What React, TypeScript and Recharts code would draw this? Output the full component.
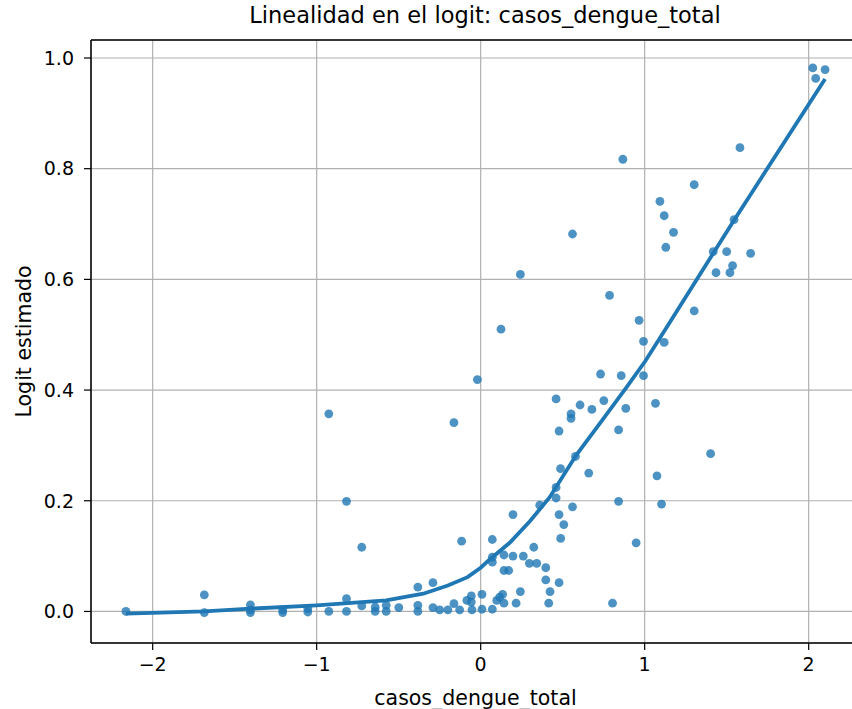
import React from "react";
import {
  CartesianGrid,
  ComposedChart,
  Line,
  ReferenceLine,
  Scatter,
  XAxis,
  YAxis,
} from "recharts";

// valores
const ptsX = [
  -2.163, -1.685, -1.685, -1.404, -1.404, -1.404, -1.207, -1.207, -1.054, -1.054,
  -0.926, -0.926, -0.818, -0.818, -0.818, -0.725, -0.725, -0.643, -0.643, -0.576,
  -0.576, -0.499, -0.383, -0.383, -0.383, -0.291, -0.291, -0.25, -0.2, -0.163,
  -0.163, -0.128, -0.116, -0.084, -0.057, -0.057, -0.053, -0.02, 0.008, 0.008,
  0.071, 0.071, 0.071, 0.071, 0.098, 0.116, 0.124, 0.134, 0.142, 0.142,
  0.142, 0.171, 0.197, 0.197, 0.216, 0.242, 0.242, 0.26, 0.297, 0.324,
  0.342, 0.36, 0.397, 0.397, 0.415, 0.423, 0.46, 0.46, 0.46, 0.478,
  0.478, 0.478, 0.488, 0.487, 0.507, 0.551, 0.551, 0.56, 0.56, 0.578,
  0.606, 0.659, 0.678, 0.731, 0.751, 0.786, 0.804, 0.841, 0.841, 0.857,
  0.867, 0.885, 0.948, 0.966, 0.993, 0.993, 1.066, 1.075, 1.093, 1.103,
  1.119, 1.119, 1.129, 1.176, 1.302, 1.302, 1.402, 1.418, 1.435, 1.5,
  1.52, 1.536, 1.545, 1.581, 1.646, 2.025, 2.043, 2.1,
];
const ptsY = [
  0.0, 0.03, -0.002, 0.012, 0.003, -0.002, 0.003, -0.002, 0.005, -0.001,
  0.357, 0.0, 0.199, 0.023, 0.0, 0.116, 0.01, 0.008, 0.0, 0.011,
  0.0, 0.007, 0.044, 0.011, 0.0, 0.052, 0.007, 0.003, 0.003, 0.341,
  0.014, 0.003, 0.127, 0.02, 0.028, 0.017, 0.003, 0.419, 0.031, 0.004,
  0.13, 0.098, 0.089, 0.004, 0.02, 0.026, 0.51, 0.031, 0.102, 0.074,
  0.015, 0.074, 0.175, 0.1, 0.015, 0.609, 0.036, 0.1, 0.087, 0.116,
  0.087, 0.192, 0.079, 0.057, 0.015, 0.036, 0.384, 0.224, 0.205, 0.326,
  0.175, 0.052, 0.132, 0.258, 0.157, 0.357, 0.349, 0.682, 0.189, 0.28,
  0.373, 0.25, 0.365, 0.429, 0.381, 0.571, 0.015, 0.328, 0.199, 0.426,
  0.817, 0.367, 0.124, 0.526, 0.488, 0.426, 0.376, 0.245, 0.741, 0.194,
  0.715, 0.486, 0.658, 0.685, 0.771, 0.543, 0.285, 0.65, 0.612, 0.65,
  0.612, 0.625, 0.708, 0.838, 0.647, 0.982, 0.963, 0.979,
];

// curva suavizada
const curveX = [-2.163, -1.685, -1.404, -1.0, -0.576, -0.35, -0.2, -0.08, 0.0, 0.055, 0.177, 0.3, 0.42, 0.584, 0.727, 0.889, 1.003, 1.123, 1.545, 2.1];
const curveY = [-0.004, 0.0, 0.005, 0.011, 0.02, 0.032, 0.047, 0.062, 0.079, 0.094, 0.124, 0.163, 0.206, 0.283, 0.34, 0.405, 0.452, 0.508, 0.707, 0.962];

const xTicks = [-2, -1, 0, 1, 2];
const yTicks = [0, 0.2, 0.4, 0.6, 0.8, 1.0];

const X_MIN = -2.376;
const X_MAX = 2.313;
const Y_MIN = -0.057;
const Y_MAX = 1.0325;

const points = ptsX.map((x, i) => ({ x, y: ptsY[i] }));
const curve = curveX.map((x, i) => ({ x, y: curveY[i] }));

const FONT = "DejaVu Sans, sans-serif";
const BLUE = "#1f77b4";

const fmtX = (v: number) => (v < 0 ? `\u2212${Math.abs(v)}` : `${v}`);

export default function App() {
  return (
    <div
      style={{
        position: "absolute",
        left: 0,
        top: 0,
        width: 852,
        height: 709,
        overflow: "hidden",
        background: "#fff",
        fontFamily: FONT,
      }}
    >
      <div
        style={{
          position: "absolute",
          top: 2,
          left: 0,
          width: 970,
          textAlign: "center",
          fontSize: 22.5,
          color: "#000",
        }}
      >
        Linealidad en el logit: casos_dengue_total
      </div>
      <ComposedChart
        width={880}
        height={709}
        margin={{ top: 40, right: 20, left: 0, bottom: 0 }}
        style={{ fontFamily: FONT }}
      >
        <CartesianGrid stroke="#b0b0b0" strokeWidth={1.2} />
        <XAxis
          type="number"
          dataKey="x"
          domain={[X_MIN, X_MAX]}
          ticks={xTicks}
          allowDataOverflow
          tickFormatter={fmtX}
          height={66}
          stroke="#000"
          axisLine={{ stroke: "#000", strokeWidth: 1.5 }}
          tickLine={{ stroke: "#000", strokeWidth: 1.2 }}
          tickSize={7}
          tick={{ fontSize: 19, fill: "#000", dy: 6 }}
          label={{
            value: "casos_dengue_total",
            position: "insideBottom",
            offset: 4,
            fontSize: 20.5,
            fill: "#000",
          }}
        />
        <YAxis
          type="number"
          dataKey="y"
          domain={[Y_MIN, Y_MAX]}
          ticks={yTicks}
          allowDataOverflow
          tickFormatter={(v: number) => v.toFixed(1)}
          width={91}
          stroke="#000"
          axisLine={{ stroke: "#000", strokeWidth: 1.5 }}
          tickLine={{ stroke: "#000", strokeWidth: 1.2 }}
          tickSize={7}
          tick={{ fontSize: 19, fill: "#000", dx: -8 }}
          label={{
            value: "Logit estimado",
            angle: -90,
            position: "insideLeft",
            offset: 24,
            fontSize: 20.5,
            fill: "#000",
            style: { textAnchor: "middle" },
          }}
        />
        <ReferenceLine y={Y_MAX} stroke="#000" strokeWidth={1.5} />
        <Scatter
          data={points}
          dataKey="y"
          fill={BLUE}
          fillOpacity={0.8}
          isAnimationActive={false}
          shape={(p: any) => (
            <circle cx={p.cx} cy={p.cy} r={4.4} fill={BLUE} fillOpacity={0.8} />
          )}
        />
        <Line
          data={curve}
          dataKey="y"
          type="linear"
          stroke={BLUE}
          strokeWidth={3.8}
          dot={false}
          activeDot={false}
          isAnimationActive={false}
        />
      </ComposedChart>
    </div>
  );
}
